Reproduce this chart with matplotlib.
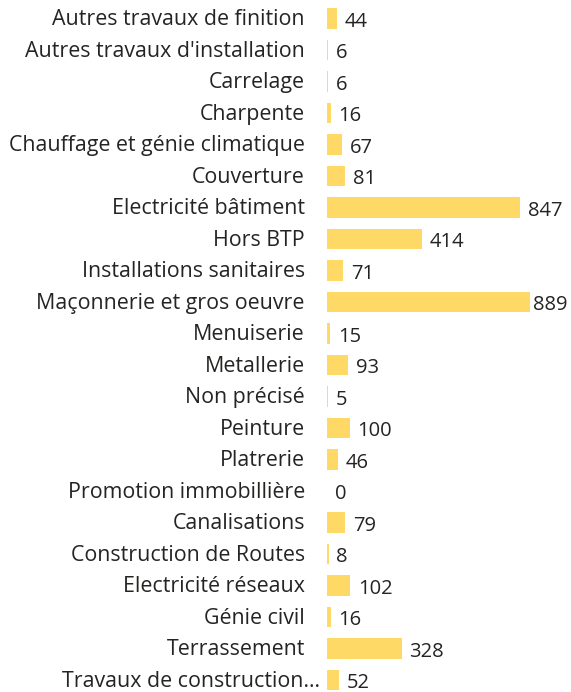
import matplotlib
matplotlib.use("Agg")
import matplotlib.pyplot as plt

categories = [
    "Autres travaux de finition", "Autres travaux d'installation", "Carrelage",
    "Charpente", "Chauffage et génie climatique", "Couverture",
    "Electricité bâtiment", "Hors BTP", "Installations sanitaires",
    "Maçonnerie et gros oeuvre", "Menuiserie", "Metallerie", "Non précisé",
    "Peinture", "Platrerie", "Promotion immobillière", "Canalisations",
    "Construction de Routes", "Electricité réseaux", "Génie civil",
    "Terrassement", "Travaux de construction…",
]
values = [44, 6, 6, 16, 67, 81, 847, 414, 71, 889, 15, 93, 5, 100, 46, 0,
          79, 8, 102, 16, 328, 52]

plt.rcParams['font.family'] = ['Open Sans', 'DejaVu Sans']

W, H = 571, 692
fig = plt.figure(figsize=(W / 100, H / 100), dpi=100)
ax_left = 327 / W
ax = fig.add_axes([ax_left, 0, 1 - ax_left, 1])

n = len(categories)
pos = list(range(n))
ax.barh(pos, values, height=0.64, color="#FFD966")

x_max = 889 * (W - 327) / 203
ax.set_xlim(0, x_max)
first, step = 18.5, 31.5
ax.set_ylim((H - first) / step, -first / step)

for i, (c, v) in enumerate(zip(categories, values)):
    lx = -5 if c.endswith("…") else -16
    ax.annotate(c, xy=(0, i), xytext=(lx, -1), textcoords="offset points",
                ha="right", va="center", fontsize=15.4, color="#252423")
    dx = 5.5 if v < 880 else 2.5
    ax.annotate(str(v), xy=(v, i), xytext=(dx, -2.5), textcoords="offset points",
                ha="left", va="center", fontsize=14.5, color="#252423")

ax.axis("off")
fig.savefig("out.png", dpi=100)
